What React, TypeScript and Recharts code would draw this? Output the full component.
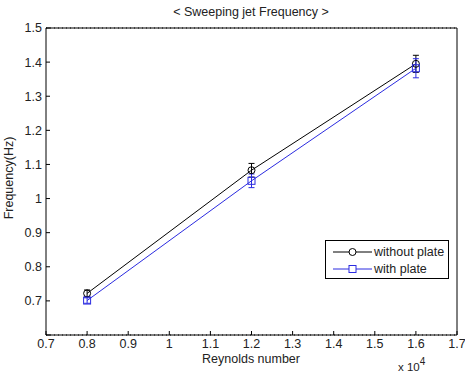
import React from 'react';
import { ComposedChart, Line, XAxis, YAxis, CartesianGrid, ErrorBar } from 'recharts';

// Reynolds number (raw values, axis shows them x 10^4)
const reynolds = [8000, 12000, 16000];
const freqWithout = [0.722, 1.083, 1.395];
const errWithout = [0.01, 0.02, 0.025];
const freqWith = [0.701, 1.052, 1.382];
const errWith = [0.008, 0.02, 0.028];

const xTicks = [7000, 8000, 9000, 10000, 11000, 12000, 13000, 14000, 15000, 16000, 17000];
const yTicks = [0.6, 0.7, 0.8, 0.9, 1.0, 1.1, 1.2, 1.3, 1.4, 1.5];

const seriesNames = ['without plate', 'with plate'];
const BLUE = '#2b2be0';
const FONT = '"Liberation Sans", Arial, sans-serif';

const chartData = reynolds.map((re, i) => ({
  re,
  without: freqWithout[i],
  withoutErr: errWithout[i],
  withPlate: freqWith[i],
  withErr: errWith[i],
}));

const fmtX = (v: number) => String(parseFloat((v / 10000).toFixed(1)));
const fmtY = (v: number) => (Math.abs(v - 0.6) < 1e-6 ? '' : String(parseFloat(v.toFixed(1))));

const CircleDot = (props: any) => {
  const { cx, cy, key } = props;
  if (cx == null || cy == null) return null;
  return <circle key={key} cx={cx} cy={cy} r={3.5} fill="none" stroke="#000" strokeWidth={1} />;
};

const SquareDot = (props: any) => {
  const { cx, cy, key } = props;
  if (cx == null || cy == null) return null;
  return <rect key={key} x={cx - 3.5} y={cy - 3.5} width={7} height={7} fill="none" stroke={BLUE} strokeWidth={1} />;
};

const tickStyle = { fill: '#222', fontSize: 12.5, fontFamily: FONT };

const App: React.FC = () => {
  return (
    <div style={{ position: 'absolute', left: 0, top: 0, width: 465, height: 376, background: '#fff', fontFamily: FONT }}>
      <ComposedChart
        width={465}
        height={376}
        data={chartData}
        margin={{ top: 27, right: 7, left: 0, bottom: 0 }}
      >
        <CartesianGrid vertical={false} stroke="#000" strokeDasharray="1 3" />
        <XAxis
          xAxisId="bottom"
          dataKey="re"
          type="number"
          domain={[7000, 17000]}
          ticks={xTicks}
          tickFormatter={fmtX}
          height={41}
          tickSize={-4}
          tickMargin={8}
          axisLine={{ stroke: '#000' }}
          tickLine={{ stroke: '#000' }}
          tick={tickStyle}
          interval={0}
        />
        {/* top and right axes close the box, ticks only */}
        <XAxis
          xAxisId="top"
          orientation="top"
          dataKey="re"
          type="number"
          domain={[7000, 17000]}
          ticks={xTicks}
          height={1}
          tickSize={-4}
          tick={false}
          axisLine={{ stroke: '#000' }}
          tickLine={{ stroke: '#000' }}
          interval={0}
        />
        <YAxis
          yAxisId="left"
          type="number"
          domain={[0.6, 1.5]}
          ticks={yTicks}
          tickFormatter={fmtY}
          width={46}
          tickSize={-4}
          tickMargin={8}
          axisLine={{ stroke: '#000' }}
          tickLine={{ stroke: '#000' }}
          tick={tickStyle}
          interval={0}
        />
        <YAxis
          yAxisId="right"
          orientation="right"
          type="number"
          domain={[0.6, 1.5]}
          ticks={yTicks}
          width={1}
          tickSize={-4}
          tick={false}
          axisLine={{ stroke: '#000' }}
          tickLine={{ stroke: '#000' }}
          interval={0}
        />
        <Line
          xAxisId="bottom"
          yAxisId="left"
          dataKey="without"
          name={seriesNames[0]}
          stroke="#000"
          strokeWidth={1}
          dot={CircleDot}
          activeDot={false}
          isAnimationActive={false}
        >
          <ErrorBar dataKey="withoutErr" width={3} stroke="#000" strokeWidth={1} isAnimationActive={false} />
        </Line>
        <Line
          xAxisId="bottom"
          yAxisId="left"
          dataKey="withPlate"
          name={seriesNames[1]}
          stroke={BLUE}
          strokeWidth={1}
          dot={SquareDot}
          activeDot={false}
          isAnimationActive={false}
        >
          <ErrorBar dataKey="withErr" width={3} stroke={BLUE} strokeWidth={1} isAnimationActive={false} />
        </Line>
      </ComposedChart>

      {/* title and axis labels */}
      <div style={{ position: 'absolute', left: 0, width: 502, top: 5, textAlign: 'center', fontSize: 12.5, color: '#222' }}>
        &lt; Sweeping jet Frequency &gt;
      </div>
      <div style={{ position: 'absolute', left: 0, width: 502, top: 352, textAlign: 'center', fontSize: 12.5, color: '#222' }}>
        Reynolds number
      </div>
      <div
        style={{
          position: 'absolute',
          left: 9,
          top: 178,
          fontSize: 12.5,
          color: '#222',
          whiteSpace: 'nowrap',
          transform: 'translate(-50%, -50%) rotate(-90deg)',
        }}
      >
        Frequency(Hz)
      </div>
      <div style={{ position: 'absolute', left: 398, top: 361, fontSize: 11.5, color: '#222', whiteSpace: 'nowrap' }}>
        x 10<span style={{ position: 'relative', top: -6, fontSize: 10 }}>4</span>
      </div>

      {/* legend */}
      <div
        style={{
          position: 'absolute',
          left: 325,
          top: 240,
          width: 122,
          height: 37,
          border: '1px solid #000',
          background: '#fff',
          fontSize: 12.5,
          color: '#222',
        }}
      >
        {seriesNames.map((name, i) => (
          <div key={name} style={{ position: 'absolute', left: 6, top: i === 0 ? 3 : 20, height: 15, display: 'flex', alignItems: 'center', whiteSpace: 'nowrap' }}>
            <svg width={40} height={14} style={{ display: 'block' }}>
              <line x1={1} y1={7} x2={40} y2={7} stroke={i === 0 ? '#000' : BLUE} strokeWidth={1} />
              {i === 0 ? (
                <circle cx={20.5} cy={7} r={3.5} fill="#fff" stroke="#000" />
              ) : (
                <rect x={17} y={3.5} width={7} height={7} fill="#fff" stroke={BLUE} />
              )}
            </svg>
            <span style={{ marginLeft: 2 }}>{name}</span>
          </div>
        ))}
      </div>
    </div>
  );
};

export default App;
